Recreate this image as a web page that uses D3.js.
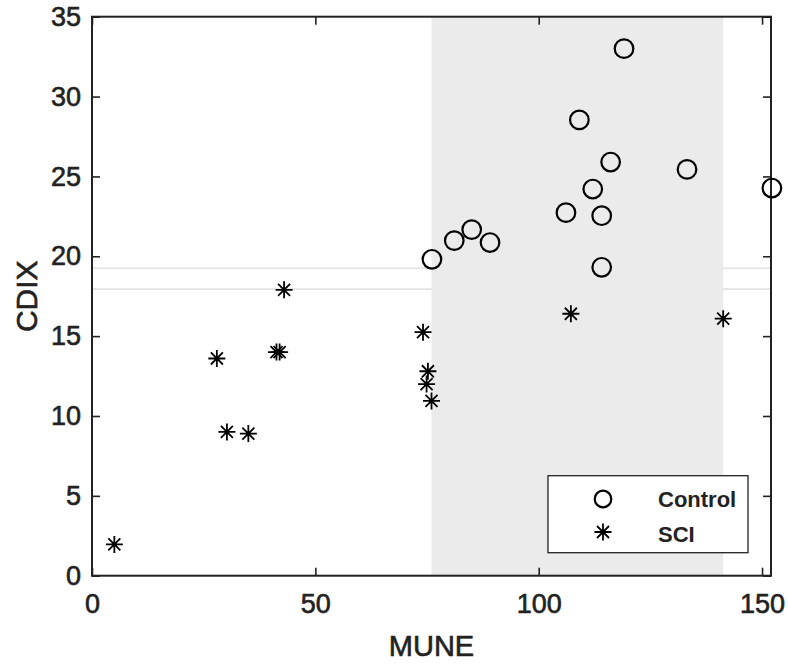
<!DOCTYPE html>
<html>
<head>
<meta charset="utf-8">
<script src="https://cdn.jsdelivr.net/npm/d3@7"></script>
<style>
  html, body { margin: 0; padding: 0; background: #ffffff; }
  svg { display: block; }
  text { font-family: "Liberation Sans", Arial, Helvetica, sans-serif; fill: #222; }
</style>
</head>
<body>
<svg id="chart" width="788" height="664"></svg>
<script>
// ---- data ----
const controlMUNE = [119.1, 109.1, 116.1, 133.2, 152.2, 112.1, 106.1, 114.1, 85.0, 81.1, 89.1, 76.1, 114.1];
const controlCDIX = [33.0, 28.54, 25.9, 25.44, 24.27, 24.21, 22.73, 22.54, 21.67, 20.98, 20.86, 19.81, 19.31];
const sciMUNE = [5.0, 27.95, 30.2, 35.0, 41.3, 42.0, 43.0, 74.1, 75.2, 74.9, 76.0, 107.2, 141.3];
const sciCDIX = [1.96, 13.6, 9.0, 8.9, 14.0, 14.0, 17.9, 15.25, 12.8, 12.0, 10.94, 16.4, 16.09];
const shadeRange = [76.0, 141.3];
const refLines = [17.94, 19.25];
const xTicks = [0, 50, 100, 150];
const yTicks = [0, 5, 10, 15, 20, 25, 30, 35];
const xDomain = [0, 152];
const yDomain = [0, 35];
const legendLabels = ["Control", "SCI"];
const xTitle = "MUNE";
const yTitle = "CDIX";

// ---- layout ----
const svg = d3.select("#chart");
const L = 92, R = 771, T = 16.7, B = 575.7;
const ink = "#222";

const x = d3.scaleLinear().domain(xDomain).range([L, R]);
const y = d3.scaleLinear().domain(yDomain).range([B, T]);

// reference lines
svg.append("g").selectAll("line").data(refLines).join("line")
  .attr("x1", L).attr("x2", R)
  .attr("y1", d => y(d)).attr("y2", d => y(d))
  .attr("stroke", "#e2e2e2").attr("stroke-width", 1.6);

// shaded band
svg.append("rect")
  .attr("x", x(shadeRange[0])).attr("y", y(yDomain[1]))
  .attr("width", x(shadeRange[1]) - x(shadeRange[0]))
  .attr("height", y(yDomain[0]) - y(yDomain[1]))
  .attr("fill", "#ebebeb");

// axes
function styleAxis(g) {
  g.select(".domain").remove();
  g.selectAll(".tick line").attr("stroke", ink).attr("stroke-width", 1.6);
  g.selectAll(".tick text").attr("fill", ink).style("font-size", "27px")
    .style("font-family", "'Liberation Sans', Arial, sans-serif")
    .attr("stroke", ink).attr("stroke-width", 0.6);
}
svg.append("g").attr("transform", `translate(0,${B})`)
  .call(d3.axisBottom(x).tickValues(xTicks).tickSize(-8).tickPadding(18).tickFormat(d3.format("d")))
  .call(styleAxis);
svg.append("g").attr("transform", `translate(0,${T})`)
  .call(d3.axisTop(x).tickValues(xTicks).tickSize(-8).tickFormat(""))
  .call(styleAxis);
svg.append("g").attr("transform", `translate(${L},0)`)
  .call(d3.axisLeft(y).tickValues(yTicks).tickSize(-8).tickPadding(11).tickFormat(d3.format("d")))
  .call(styleAxis);
svg.append("g").attr("transform", `translate(${R},0)`)
  .call(d3.axisRight(y).tickValues(yTicks).tickSize(-8).tickFormat(""))
  .call(styleAxis);

// frame
svg.append("rect").attr("x", L).attr("y", T).attr("width", R - L).attr("height", B - T)
  .attr("fill", "none").attr("stroke", ink).attr("stroke-width", 2);

// markers
const starPath = (s) => {
  const d = s * Math.SQRT1_2;
  return `M${-s},0L${s},0M0,${-s}L0,${s}M${-d},${-d}L${d},${d}M${-d},${d}L${d},${-d}`;
};

const controlData = controlMUNE.map((v, i) => ({ x: v, y: controlCDIX[i] }));
const sciData = sciMUNE.map((v, i) => ({ x: v, y: sciCDIX[i] }));

svg.append("g").selectAll("circle").data(controlData).join("circle")
  .attr("cx", d => x(d.x)).attr("cy", d => y(d.y)).attr("r", 9.3)
  .attr("fill", "none").attr("stroke", "#000").attr("stroke-width", 2.2);

svg.append("g").selectAll("path").data(sciData).join("path")
  .attr("transform", d => `translate(${x(d.x)},${y(d.y)})`)
  .attr("d", starPath(8.5))
  .attr("fill", "none").attr("stroke", "#000").attr("stroke-width", 1.8);

// axis titles
svg.append("text").attr("x", (L + R) / 2).attr("y", 656)
  .attr("text-anchor", "middle").style("font-size", "29px")
  .attr("stroke", ink).attr("stroke-width", 0.6).text(xTitle);
svg.append("text")
  .attr("transform", `translate(37,${(T + B) / 2}) rotate(-90)`)
  .attr("text-anchor", "middle").style("font-size", "30px")
  .attr("stroke", ink).attr("stroke-width", 0.6).text(yTitle);

// legend
const lg = svg.append("g");
lg.append("rect").attr("x", 548).attr("y", 475.7).attr("width", 200).attr("height", 77)
  .attr("fill", "#fff").attr("stroke", ink).attr("stroke-width", 1.3);
lg.append("circle").attr("cx", 603).attr("cy", 499).attr("r", 8.3)
  .attr("fill", "none").attr("stroke", "#000").attr("stroke-width", 2.2);
lg.append("path").attr("transform", "translate(603,532)").attr("d", starPath(8.5))
  .attr("fill", "none").attr("stroke", "#000").attr("stroke-width", 1.8);
lg.append("text").attr("x", 658).attr("y", 507.3).style("font-size", "22px")
  .style("font-weight", "bold").text(legendLabels[0]);
lg.append("text").attr("x", 658).attr("y", 541.7).style("font-size", "22px")
  .style("font-weight", "bold").text(legendLabels[1]);
</script>
</body>
</html>
